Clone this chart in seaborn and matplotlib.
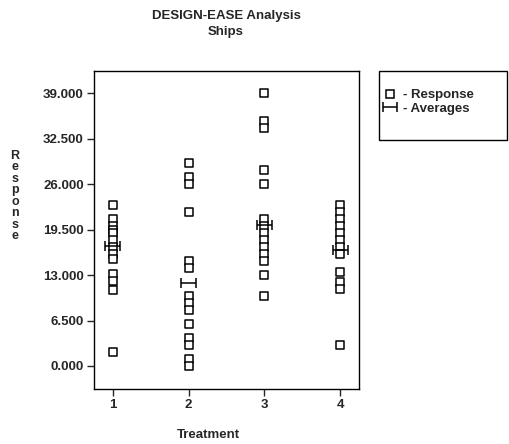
import numpy as np
import pandas as pd
import matplotlib
matplotlib.use('Agg')
from matplotlib import pyplot as plt
from matplotlib.patches import Rectangle
from matplotlib.ticker import FormatStrFormatter
import seaborn as sns

# values
treatments = [1, 2, 3, 4]
resp_t1 = [23, 21, 20, 19.5, 19, 18, 17, 16, 15.3, 13.2, 12.1, 10.9, 2]
resp_t2 = [29, 27, 26, 22, 15, 14, 10, 9, 8, 6, 4, 3, 1, 0]
resp_t3 = [39, 35, 34, 28, 26, 21, 20, 19, 18, 17, 16, 15, 13, 10]
resp_t4 = [23, 22, 21, 20, 19, 18, 17, 16, 13.4, 12, 11, 3]
averages = [17.2, 11.8, 20.2, 16.6]
y_ticks = [0, 6.5, 13, 19.5, 26, 32.5, 39]

rows = []
for t, vals in zip(treatments, [resp_t1, resp_t2, resp_t3, resp_t4]):
    for v in vals:
        rows.append((t, v))
df = pd.DataFrame(rows, columns=['Treatment', 'Response'])

sns.set_style('ticks')
plt.rcParams['font.family'] = ['Liberation Sans', 'DejaVu Sans']

fig = plt.figure(figsize=(5.09, 4.44), dpi=100)
ax = fig.add_axes([93.5 / 509, 1 - 389 / 444, 266 / 509, 318 / 444])

sns.scatterplot(data=df, x='Treatment', y='Response', marker='s', s=30,
                facecolor='white', edgecolor='black', linewidth=1.1, ax=ax,
                zorder=3, legend=False)
av = ax.errorbar(treatments, averages, xerr=0.1, fmt='none', ecolor='black',
                 elinewidth=1.1, capsize=3.5, capthick=1.1, zorder=4)

ax.set_xlim(0.75, 4.25)
ax.set_ylim(-3.3, 42.2)
ax.set_xticks(treatments)
ax.set_yticks(y_ticks)
ax.yaxis.set_major_formatter(FormatStrFormatter('%.3f'))
ax.tick_params(direction='out', length=5, width=1, labelsize=9.5, pad=2)
for lab in ax.get_xticklabels() + ax.get_yticklabels():
    lab.set_fontweight('bold')
for sp in ax.spines.values():
    sp.set_linewidth(1)
    sp.set_color('black')
ax.set_xlabel('')
ax.set_ylabel('')

fig.text(226 / 509, 1 - 16 / 444, 'DESIGN-EASE Analysis', ha='center', va='center',
         fontsize=9.5, fontweight='semibold')
fig.text(226 / 509, 1 - 32 / 444, 'Ships', ha='center', va='center',
         fontsize=9.5, fontweight='semibold')
fig.text(208 / 509, 1 - 435 / 444, 'Treatment', ha='center', va='center',
         fontsize=9.5, fontweight='semibold')
fig.text(15 / 509, 1 - 196 / 444, '\n'.join('Response'), ha='center', va='center',
         fontsize=9, linespacing=0.95, fontweight='bold')

# legend
fig.patches.append(Rectangle((379 / 509, 1 - 140 / 444), 128 / 509, 69 / 444,
                             transform=fig.transFigure, fill=False, ec='black', lw=1))
sq = plt.Line2D([], [], marker='s', linestyle='none', markersize=6,
                markerfacecolor='white', markeredgecolor='black', markeredgewidth=1.1)
fig.legend([sq, av], ['- Response', '- Averages'], loc='upper left',
           bbox_to_anchor=(382 / 509, 1 - 89 / 444), frameon=False,
           prop={'size': 9.5, 'weight': 'bold'}, handlelength=1.2,
           handletextpad=0.4, labelspacing=0.1, borderaxespad=0, borderpad=0)

fig.savefig('out.png', dpi=100)
